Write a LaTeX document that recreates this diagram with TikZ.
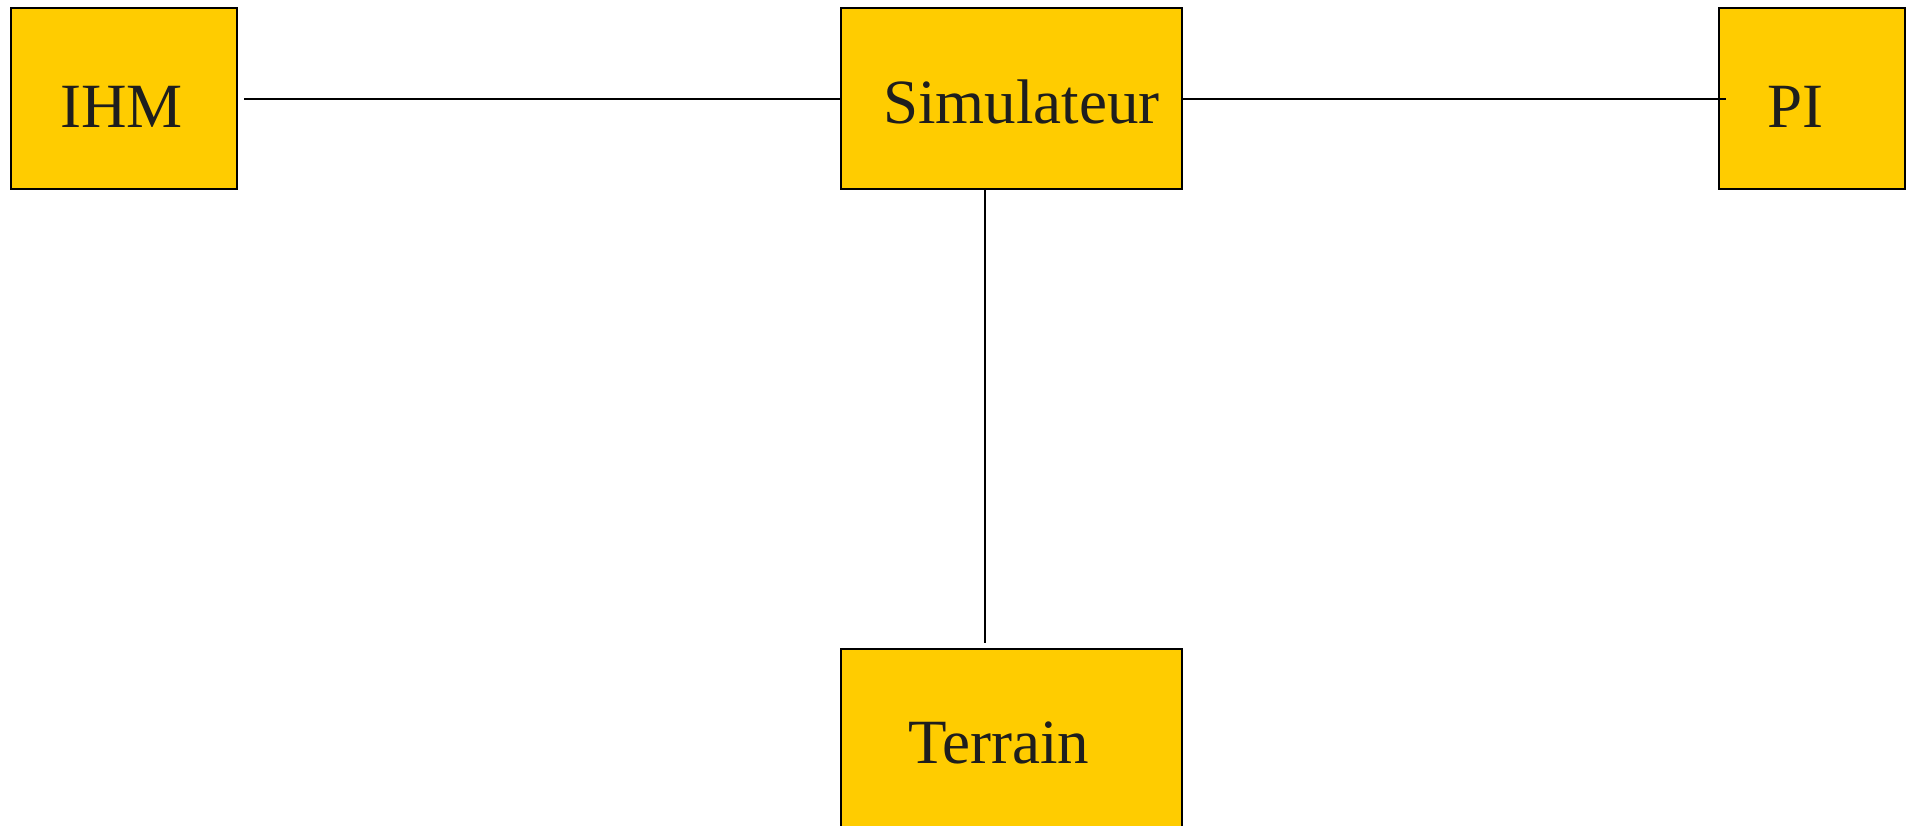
\documentclass[tikz,border=0pt]{standalone}
\usepackage{fontspec}
\setmainfont{Liberation Serif}
\definecolor{boxfill}{HTML}{FFCC00}
\definecolor{ink}{HTML}{1E1E1E}
\begin{document}
\begin{tikzpicture}[x=1pt,y=-1pt,
  block/.style={draw=black, fill=boxfill, line width=2pt, rectangle,
    inner sep=0pt, minimum height=181pt},
  caption/.style={anchor=base west, inner sep=0pt, text=ink,
    font=\fontsize{63}{63}\selectfont},
  link/.style={draw=black, line width=1.8pt}]
\useasboundingbox (0,0) rectangle (1907,826);
\begin{scope}
\clip (0,0) rectangle (1907,826);
% blocks
\node[block, minimum width=226.5pt] (ihm) at (123.75,99) {};
\node[block, minimum width=340.7pt] (sim) at (1011.35,99) {};
\node[block, minimum width=186.3pt] (pi) at (1811.85,99) {};
\node[block, minimum width=340.7pt] (terrain) at (1011.35,739.2) {};
% labels
\node[caption] (tihm) at (60,128) {IHM};
\node[caption] (tsim) at (883,123.3) {Simulateur};
\node[caption] (tpi) at (1767,128) {PI};
\node[caption] (tterrain) at (908,763) {Terrain};
% connectors
\draw[link] ([xshift=6pt]ihm.east) -- (sim.west);
\draw[link] (sim.east) -- ([xshift=8pt]pi.west);
\draw[link] ([xshift=-26pt]sim.south) -- ([xshift=-26pt,yshift=5pt]terrain.north);
\end{scope}
\end{tikzpicture}
\end{document}
